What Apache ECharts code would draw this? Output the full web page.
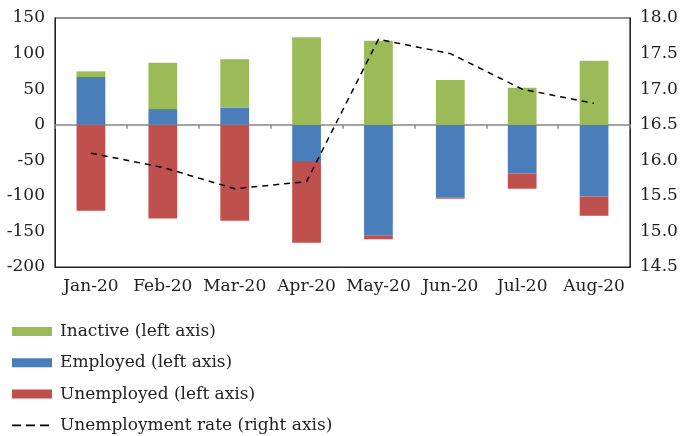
<!DOCTYPE html>
<html>
<head>
<meta charset="utf-8">
<script src="https://cdn.jsdelivr.net/npm/echarts@6/dist/echarts.min.js"></script>
<style>
  html, body { margin: 0; padding: 0; background: #fff; }
  #chart { width: 690px; height: 436px; }
</style>
</head>
<body>
<div id="chart"></div>
<script>
// data
const months = ['Jan-20', 'Feb-20', 'Mar-20', 'Apr-20', 'May-20', 'Jun-20', 'Jul-20', 'Aug-20'];
const inactive = [8, 65, 68, 123, 118, 63, 52, 90];
const employed = [67, 22, 24, -51, -156, -102, -69, -101];
const unemployed = [-121, -132, -135, -115, -5, -2, -21, -27];
const unemploymentRate = [16.1, 15.9, 15.6, 15.7, 17.7, 17.5, 17.0, 16.8];

const font = 'DejaVu Serif';
const fs = 17;
// three short dashes for the rate legend icon (box 40 x 9)
const dashIcon = 'path://M0,0M40,9M0,3.6h9v1.8h-9zM14,3.6h9v1.8h-9zM28,3.6h9v1.8h-9z';

const chart = echarts.init(document.getElementById('chart'));

chart.setOption({
  animation: false,
  textStyle: { fontFamily: font },
  grid: {
    left: 55,
    right: 60,
    top: 18,
    bottom: 169,
    show: true,
    borderColor: '#222',
    borderWidth: 1.2
  },
  legend: {
    orient: 'vertical',
    left: 12,
    top: 323,
    padding: 0,
    itemWidth: 40,
    itemHeight: 9,
    itemGap: 14.3,
    data: [
      { name: 'Inactive (left axis)', icon: 'rect' },
      { name: 'Employed (left axis)', icon: 'rect' },
      { name: 'Unemployed (left axis)', icon: 'rect' },
      { name: 'Unemployment rate (right axis)', icon: dashIcon, itemStyle: { color: '#000' } }
    ],
    textStyle: { fontFamily: font, fontSize: fs, color: '#222', padding: [0, 0, 0, 3] }
  },
  xAxis: [
    {
      type: 'category',
      data: months,
      axisLine: { onZero: false, lineStyle: { color: '#222' } },
      axisTick: { show: false },
      axisLabel: { fontFamily: font, fontSize: fs, color: '#222', margin: 11, interval: 0 }
    },
    {
      type: 'category',
      data: months,
      position: 'bottom',
      axisLine: { onZero: true, lineStyle: { color: '#888', width: 1.5 } },
      axisTick: { show: true, length: 4, interval: 0, lineStyle: { color: '#888', width: 1.5 } },
      axisLabel: { show: false }
    }
  ],
  yAxis: [
    {
      type: 'value',
      min: -200,
      max: 150,
      interval: 50,
      splitLine: { show: false },
      axisLine: { show: true, lineStyle: { color: '#222' } },
      axisLabel: { fontFamily: font, fontSize: fs, color: '#222', margin: 10 }
    },
    {
      type: 'value',
      min: 14.5,
      max: 18.0,
      interval: 0.5,
      position: 'right',
      splitLine: { show: false },
      axisLine: { show: true, lineStyle: { color: '#222' } },
      axisLabel: {
        fontFamily: font, fontSize: fs, color: '#222', margin: 10,
        formatter: v => v.toFixed(1)
      }
    }
  ],
  series: [
    {
      name: 'Employed (left axis)',
      type: 'bar',
      stack: 'flows',
      barWidth: '40%',
      itemStyle: { color: '#4a7ebb' },
      data: employed
    },
    {
      name: 'Inactive (left axis)',
      type: 'bar',
      stack: 'flows',
      itemStyle: { color: '#9bbb59' },
      data: inactive
    },
    {
      name: 'Unemployed (left axis)',
      type: 'bar',
      stack: 'flows',
      itemStyle: { color: '#c0504d' },
      data: unemployed
    },
    {
      name: 'Unemployment rate (right axis)',
      type: 'line',
      yAxisIndex: 1,
      symbol: 'none',
      lineStyle: { color: '#000', width: 1.5, type: [6, 5] },
      itemStyle: { color: '#000' },
      data: unemploymentRate
    }
  ]
});
</script>
</body>
</html>
